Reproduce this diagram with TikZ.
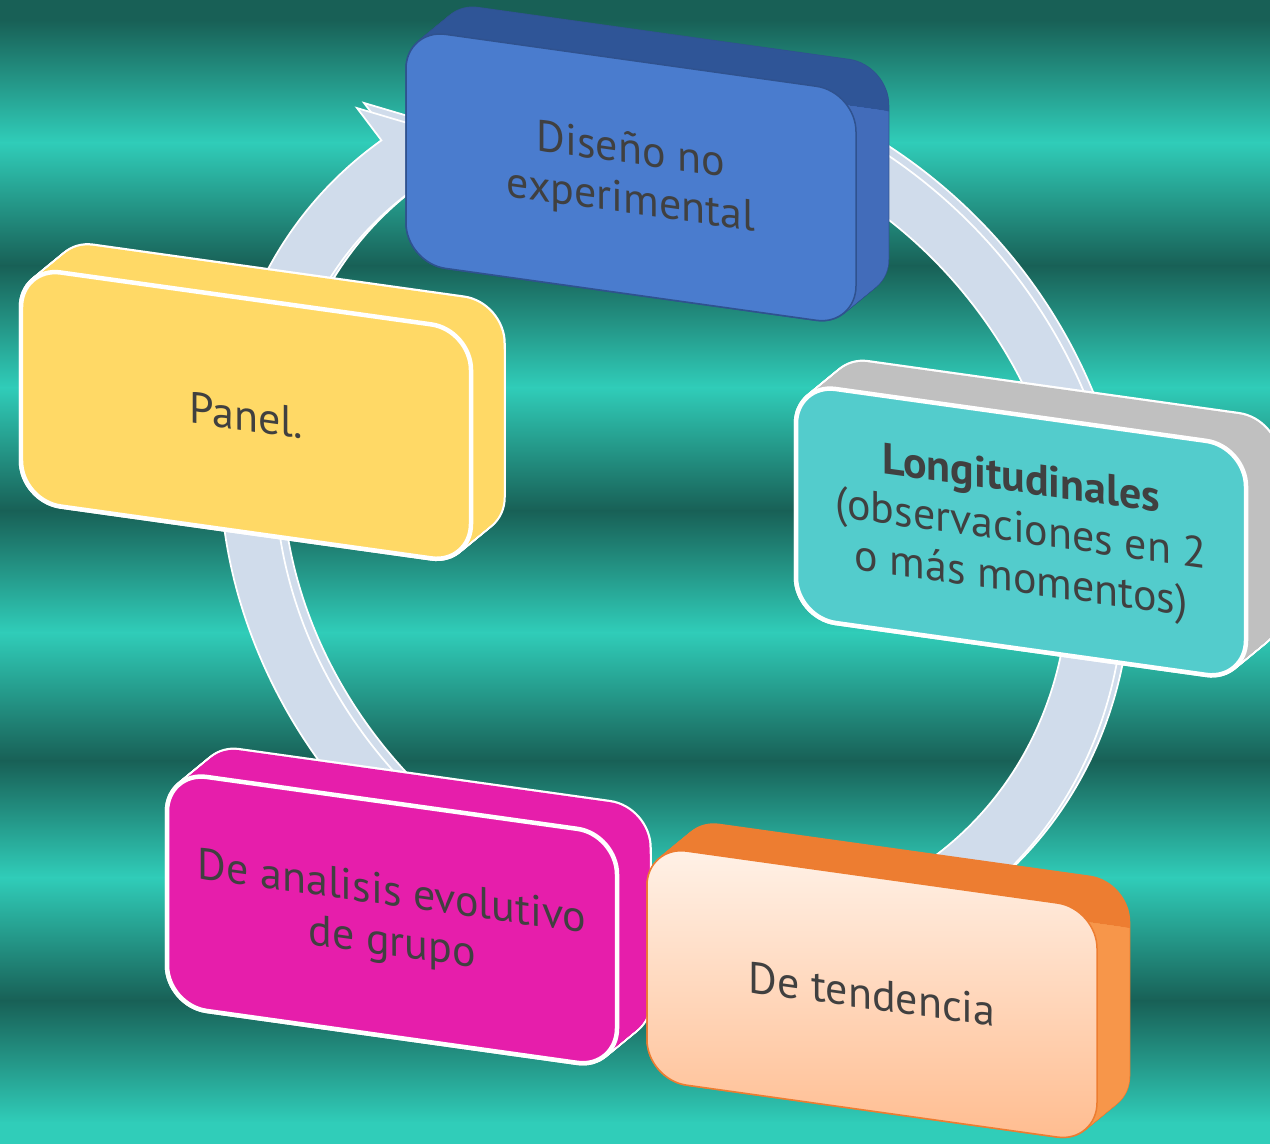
\documentclass[tikz,border=0pt]{standalone}
\usepackage{fontspec}
\setmainfont{PT Sans}
\usepackage{tikz}

\definecolor{bgdark}{RGB}{24,96,86}
\definecolor{bglight}{RGB}{48,205,185}
\definecolor{ringfill}{RGB}{208,220,235}
\definecolor{textgrey}{RGB}{64,64,64}
\definecolor{bluefront}{RGB}{74,124,206}
\definecolor{blueside}{RGB}{47,85,151}
\definecolor{blueright}{RGB}{66,108,186}
\definecolor{blueedge}{RGB}{47,82,143}
\definecolor{tealfront}{RGB}{83,204,204}
\definecolor{greyside}{RGB}{192,192,192}
\definecolor{yellowfront}{RGB}{255,217,102}
\definecolor{pinkfront}{RGB}{230,30,171}
\definecolor{peachtop}{RGB}{255,242,232}
\definecolor{peachbottom}{RGB}{255,188,143}
\definecolor{orangeside}{RGB}{237,125,49}
\definecolor{orangeright}{RGB}{247,150,74}

\tikzset{
  face/.style={rounded corners=0.8cm},
  whiterim/.style={fill=white,draw=white,line width=0.09cm},
  plainrim/.style={fill=#1,draw=#1,line width=0.03cm},
  boxtext/.style={align=center,text=textgrey,font=\fontsize{25}{28.5}\selectfont,transform shape},
  ringpart/.style={fill=ringfill,draw=white,line width=0.035cm}
}

% #1,#2 front corner, #3 rim, #4 top side, #5 right side, #6 front face
\newcommand{\cyclebox}[6]{%
  \foreach \t in {0,...,25}
    \path[face,#3] ({#1+1.3*\t},{#2-1.25*\t}) rectangle +(450,234);
  \foreach \t in {0,...,25}
    \path[face,fill=#4] ({#1+1.3*\t},{#2-1.25*\t}) rectangle +(450,234);
  \begin{scope}
    \clip ({#1+440},{#2+15}) rectangle +(80,260);
    \foreach \t in {0,...,25}
      \path[face,fill=#5] ({#1+1.3*\t},{#2-1.25*\t}) rectangle +(450,234);
  \end{scope}
  \path[face,#6] (#1,#2) rectangle +(450,234);
}

\begin{document}
\begin{tikzpicture}[x=0.02cm,y=-0.02cm]
\useasboundingbox (0,0) rectangle (1270,1143);

% striped background
\foreach \ya/\yb/\ca/\cb in {0/21/bgdark/bgdark, 20/143/bgdark/bglight,
    142/266/bglight/bgdark, 265/388/bgdark/bglight, 387/511/bglight/bgdark,
    510/633/bgdark/bglight, 632/761/bglight/bgdark, 760/878/bgdark/bglight,
    877/1001/bglight/bgdark, 1000/1123/bgdark/bglight, 1122/1143/bglight/bglight}
  \shade[top color=\ca,bottom color=\cb] (0,\ya) rectangle (1270,\yb);

% circular arrow
\begin{scope}[yslant=-0.13]
  \foreach \dx/\dy in {7/-6,0/0}{
    \begin{scope}[shift={(672+\dx,437+\dy)}]
      \path[ringpart] (245:452) arc[start angle=245,end angle=590,radius=452]
        -- (590:490) -- (598:425) -- (590:360) -- (590:397)
        arc[start angle=590,end angle=245,radius=397] -- cycle;
    \end{scope}
  }
\end{scope}

\begin{scope}[yslant=-0.14]
  \cyclebox{21}{264}{whiterim}{yellowfront}{yellowfront}{fill=yellowfront,draw=white,line width=0.09cm}
  \cyclebox{406}{-28}{plainrim=blueedge}{blueside}{blueright}{fill=bluefront,draw=blueedge,line width=0.03cm}
  \cyclebox{796}{272}{whiterim}{greyside}{greyside}{fill=tealfront,draw=white,line width=0.09cm}
  \cyclebox{167}{748}{whiterim}{pinkfront}{pinkfront}{fill=pinkfront,draw=white,line width=0.09cm}
  \cyclebox{647}{755}{plainrim=orangeside}{orangeside}{orangeright}{top color=peachtop,bottom color=peachbottom,draw=orangeside,line width=0.03cm}

  \node[boxtext] (panel) at (246,381) {Panel.};
  \node[boxtext] (diseno) at (631,89) {Diseño no\\experimental};
  \node[boxtext] (longitud) at (1021,389) {\textbf{Longitudinales}\\(observaciones en 2\\o más momentos)};
  \node[boxtext] (analisis) at (392,865) {De analisis evolutivo\\de grupo};
  \node[boxtext] (tendencia) at (872,872) {De tendencia};
\end{scope}
\end{tikzpicture}
\end{document}
